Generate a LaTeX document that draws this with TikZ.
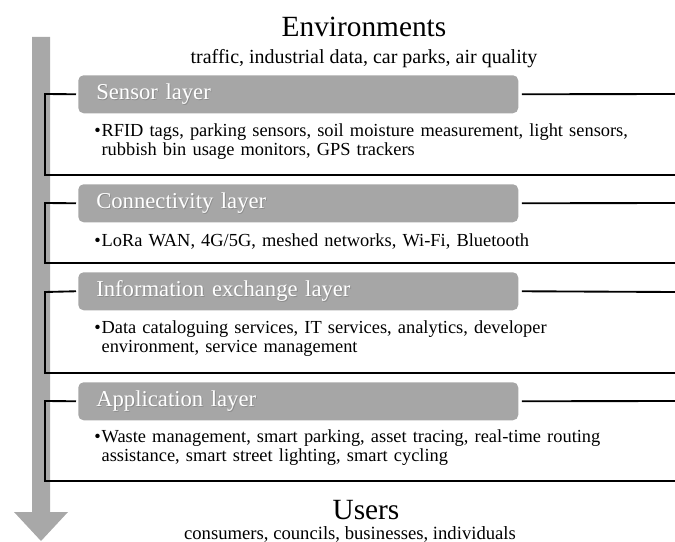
\documentclass[tikz,border=0pt]{standalone}
\usepackage{fontspec}
\setmainfont{Liberation Serif}
\definecolor{hdrgray}{HTML}{A6A6A6}
\definecolor{arrgray}{HTML}{A8A8A8}
\newcommand\shtext[1]{\makebox[0pt][l]{\hspace{0.7pt}\raisebox{-0.7pt}{\textcolor{black!45}{#1}}}\textcolor{white}{#1}}
\newcommand\bul{\makebox[5.5pt][l]{•}}
\newcommand\hang{\hspace*{5.5pt}}
\begin{document}
\begin{tikzpicture}[x=0.75pt,y=-0.75pt,
  hdr/.style={fill=hdrgray, rounded corners=4pt, anchor=north west,
    minimum width=330pt, minimum height=28.5pt, text width=303pt,
    inner xsep=13.5pt, inner ysep=0pt, align=left,
    font=\fontsize{17}{20}\selectfont},
  body/.style={anchor=base west, text width=430pt, align=left, inner sep=0pt,
    font=\fontsize{13.8}{14.25}\selectfont},
  br/.style={line width=1.4pt, black},
  ttl/.style={anchor=base, inner sep=0pt}]
\useasboundingbox (0,0) rectangle (675,542);
% big arrow
\fill[arrgray] (32,37) -- (50,37) -- (50,512) -- (68,512) -- (41,541) -- (14,512) -- (32,512) -- cycle;
% titles
\node[ttl, font=\fontsize{22}{24}\selectfont] (env) at (364,37) {Environments};
\node[ttl, font=\fontsize{15}{17}\selectfont] (envsub) at (364,64) {traffic, industrial data, car parks, air quality};
\node[ttl, font=\fontsize{22}{24}\selectfont] (usr) at (366,519) {Users};
\node[ttl, font=\fontsize{14}{16}\selectfont] (usrsub) at (350,539) {consumers, councils, businesses, individuals};
% headers
\node[hdr] (hS) at (78,75) {\shtext{Sensor layer}};
\node[hdr] (hC) at (78,184) {\shtext{Connectivity layer}};
\node[hdr] (hI) at (78,272) {\shtext{Information exchange layer}};
\node[hdr] (hA) at (78,382) {\shtext{Application layer}};
% bodies
\node[body] (tS) at (94,137) {\bul RFID tags, parking sensors, soil moisture measurement, light sensors,\\\hang rubbish bin usage monitors, GPS trackers};
\node[body] (tC) at (94,246) {\bul LoRa WAN, 4G/5G, meshed networks, Wi-Fi, Bluetooth};
\node[body] (tI) at (94,333) {\bul Data cataloguing services, IT services, analytics, developer\\\hang environment, service management};
\node[body] (tA) at (94,442) {\bul Waste management, smart parking, asset tracing, real-time routing\\\hang assistance, smart street lighting, smart cycling};
% bracket coordinates
\coordinate (rS) at (675,94);
\coordinate (rC) at (675,203);
\coordinate (rI) at (675,292);
\coordinate (rA) at (675,401);
\coordinate (eS) at (675,175);
\coordinate (eC) at (675,263);
\coordinate (eI) at (675,373);
\coordinate (eA) at (675,481);
\coordinate (lS) at (45,94);
\coordinate (lC) at (45,203);
\coordinate (lI) at (45,292);
\coordinate (lA) at (45,401);
% brackets
\foreach \k in {S,C,I,A}{
  \draw[br] ([xshift=-1.5pt]h\k.west) -- (l\k) |- (e\k);
  \draw[br] ([xshift=2.5pt]h\k.east) -- (r\k);
}
\end{tikzpicture}
\end{document}
